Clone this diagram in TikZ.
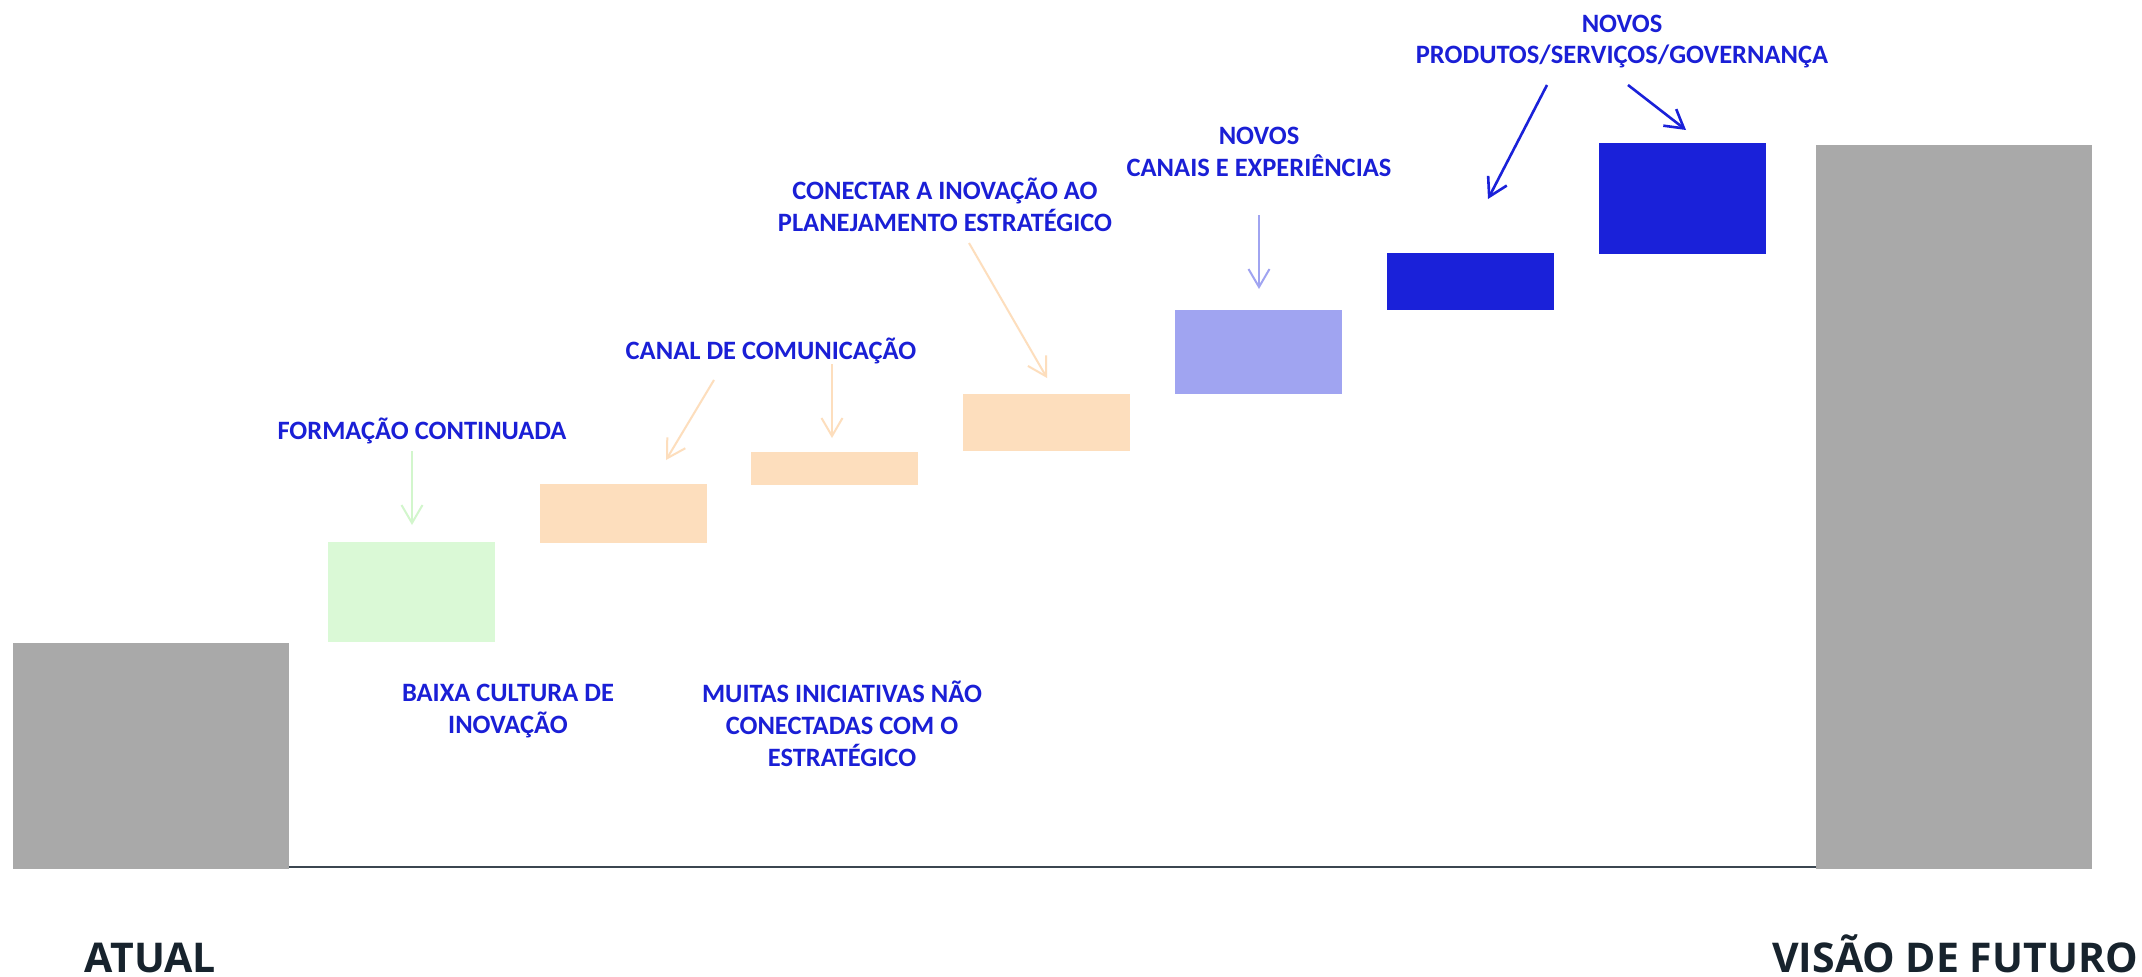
\documentclass[tikz,border=0pt]{standalone}
\usepackage{fontspec}
\setmainfont{Carlito}
\newfontfamily\bottomfont{Open Sans}
\usetikzlibrary{arrows.meta}
\definecolor{boxgray}{HTML}{A9A9A9}
\definecolor{boxgreen}{HTML}{DAF9D6}
\definecolor{boxpeach}{HTML}{FDDEBD}
\definecolor{boxlilac}{HTML}{A0A4F1}
\definecolor{boxblue}{HTML}{1A21D9}
\definecolor{arrgreen}{HTML}{D2F6CC}
\definecolor{txtblue}{HTML}{1A1FD6}
\definecolor{txtdark}{HTML}{17232D}
\definecolor{basecol}{HTML}{3B4650}
\begin{document}
\begin{tikzpicture}[x=1pt,y=-1pt,
  blk/.style={fill=#1, draw=none, inner sep=0, outer sep=0, anchor=north west},
  lbl/.style={text=txtblue, font=\fontsize{26.5}{31}\selectfont\bfseries, inner sep=0, anchor=base},
  big/.style={text=txtdark, font=\bottomfont\fontsize{41}{48}\selectfont\bfseries, inner sep=0, anchor=base, text depth=0pt},
  conn/.style={draw=#1, line width=2pt, -{Straight Barb[length=18pt,width=21pt]}},
]
\useasboundingbox (0,0) rectangle (2142,977);
\fill[white] (0,0) rectangle (2142,977);

% blocks
\node[blk=boxgray,  minimum width=276pt, minimum height=226pt] (atual)  at (13,643) {};
\node[blk=boxgreen, minimum width=167pt, minimum height=100pt] (green)  at (328,542) {};
\node[blk=boxpeach, minimum width=167pt, minimum height=59pt]  (peachA) at (540,484) {};
\node[blk=boxpeach, minimum width=167pt, minimum height=33pt]  (peachB) at (751,452) {};
\node[blk=boxpeach, minimum width=167pt, minimum height=57pt]  (peachC) at (963,394) {};
\node[blk=boxlilac, minimum width=167pt, minimum height=84pt]  (lilac)  at (1175,310) {};
\node[blk=boxblue,  minimum width=167pt, minimum height=57pt]  (blueA)  at (1387,253) {};
\node[blk=boxblue,  minimum width=167pt, minimum height=111pt] (blueB)  at (1599,143) {};
\node[blk=boxgray,  minimum width=276pt, minimum height=724pt] (futuro) at (1816,145) {};

% ground line
\draw[basecol, line width=1.6pt] ([yshift=2pt]atual.south east) -- ([yshift=2pt]futuro.south west);

% labels
\node[lbl] (formacao)  at (422,439)  {FORMAÇÃO CONTINUADA};
\node[lbl] (canal)     at (771,359)  {CANAL DE COMUNICAÇÃO};
\node[lbl] (conectarA) at (945,199)  {CONECTAR A INOVAÇÃO AO};
\node[lbl] (conectarB) at (945,231)  {PLANEJAMENTO ESTRATÉGICO};
\node[lbl] (novosA)    at (1259,144) {NOVOS};
\node[lbl] (canais)    at (1259,176) {CANAIS E EXPERIÊNCIAS};
\node[lbl] (novosB)    at (1622,32)  {NOVOS};
\node[lbl] (produtos)  at (1622,63)  {PRODUTOS/SERVIÇOS/GOVERNANÇA};
\node[lbl] (baixaA)    at (508,701)  {BAIXA CULTURA DE};
\node[lbl] (baixaB)    at (508,733)  {INOVAÇÃO};
\node[lbl] (muitasA)   at (842,702)  {MUITAS INICIATIVAS NÃO};
\node[lbl] (muitasB)   at (842,734)  {CONECTADAS COM O};
\node[lbl] (muitasC)   at (842,766)  {ESTRATÉGICO};
\node[big] (atualtxt)  at (150.5,972) {ATUAL};
\node[big] (futurotxt) at (1955,972)  {VISÃO DE FUTURO};

% arrow end points
\coordinate (g0) at (412,451);  \coordinate (g1) at (412,525);
\coordinate (p0) at (714,380);  \coordinate (p1) at (666,460);
\coordinate (q0) at (832,364);  \coordinate (q1) at (832,438);
\coordinate (r0) at (969,243);  \coordinate (r1) at (1047,378);
\coordinate (l0) at (1259,215); \coordinate (l1) at (1259,289);
\coordinate (b0) at (1547,85);  \coordinate (b1) at (1488,199);
\coordinate (c0) at (1628,85);  \coordinate (c1) at (1686,130);

\draw[conn=arrgreen] (g0) -- (g1);
\draw[conn=boxpeach] (p0) -- (p1);
\draw[conn=boxpeach] (q0) -- (q1);
\draw[conn=boxpeach] (r0) -- (r1);
\draw[conn=boxlilac] (l0) -- (l1);
\draw[conn=boxblue, line width=2.6pt] (b0) -- (b1);
\draw[conn=boxblue, line width=2.6pt] (c0) -- (c1);
\end{tikzpicture}
\end{document}
